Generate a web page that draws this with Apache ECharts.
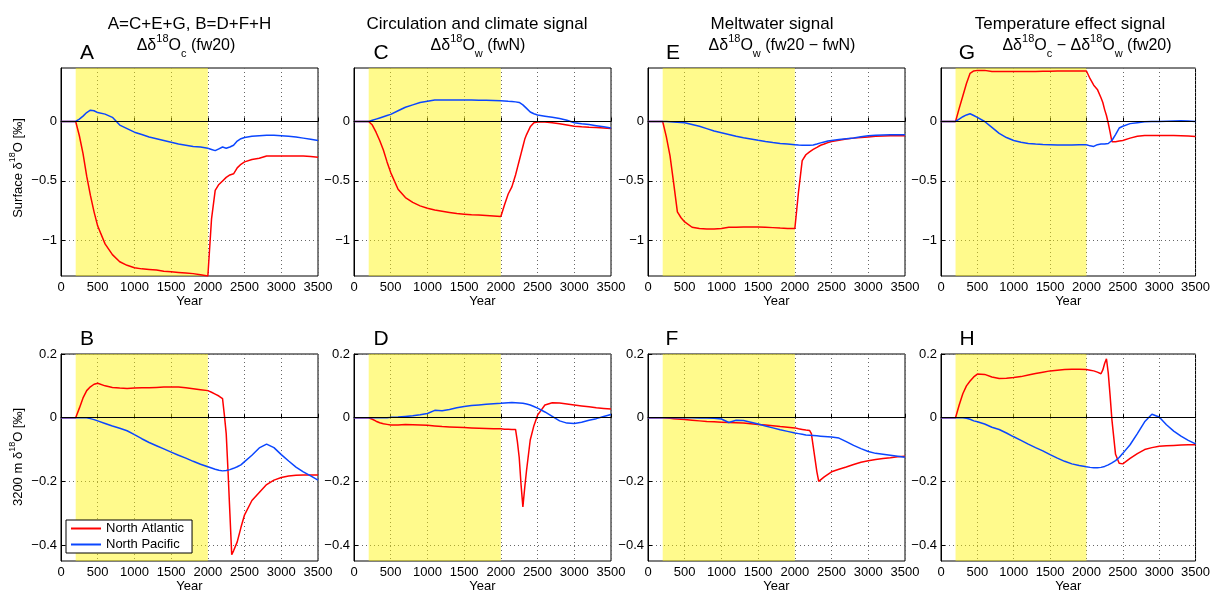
<!DOCTYPE html>
<html>
<head>
<meta charset="utf-8">
<script src="https://cdn.jsdelivr.net/npm/echarts@6/dist/echarts.min.js"></script>
<style>
html,body{margin:0;padding:0;background:#fff;}
#chart{width:1213px;height:594px;}
</style>
</head>
<body>
<div id="chart"></div>
<script>
const years = [0,200,250,300,350,400,450,500,
  600,700,800,900,1000,1100,1200,1300,1400,1500,1600,1700,1800,1900,
  2000,2050,2100,2150,2200,
  2225,2250,2275,2300,2325,2350,
  2400,2450,2500,
  2600,2700,2800,2900,3000,3100,3200,3300,3400,3500];

const xTicks = [0,500,1000,1500,2000,2500,3000,3500];
const surfTicks = [-1,-0.5,0];
const deepTicks = [-0.4,-0.2,0,0.2];
const seriesNames = ['North Atlantic','North Pacific'];

// Surface panels (top row)
const A_na = [0,0,-0.12,-0.27,-0.46,-0.62,-0.76,-0.88,
  -1.03,-1.12,-1.18,-1.21,-1.23,-1.24,-1.245,-1.25,-1.26,-1.265,-1.27,-1.275,-1.28,-1.29,
  -1.30,-0.82,-0.58,-0.53,-0.5,
  -0.49,-0.47,-0.46,-0.45,-0.45,-0.44,
  -0.39,-0.36,-0.34,
  -0.32,-0.31,-0.29,-0.29,-0.29,-0.29,-0.29,-0.29,-0.295,-0.30];
const A_np = [0,0,0.02,0.045,0.075,0.095,0.09,0.075,
  0.062,0.035,-0.03,-0.06,-0.09,-0.11,-0.13,-0.145,-0.16,-0.175,-0.19,-0.2,-0.21,-0.215,
  -0.225,-0.235,-0.245,-0.23,-0.215,
  -0.22,-0.225,-0.22,-0.215,-0.21,-0.2,
  -0.165,-0.145,-0.135,
  -0.125,-0.12,-0.115,-0.115,-0.12,-0.125,-0.13,-0.14,-0.15,-0.16];
const C_na = [0,0,-0.03,-0.09,-0.16,-0.24,-0.34,-0.43,
  -0.57,-0.64,-0.68,-0.71,-0.73,-0.745,-0.755,-0.765,-0.775,-0.78,-0.785,-0.787,-0.79,-0.795,
  -0.80,-0.70,-0.61,-0.55,-0.45,
  -0.39,-0.33,-0.27,-0.21,-0.15,-0.11,
  -0.045,-0.01,-0.005,
  -0.005,-0.01,-0.02,-0.03,-0.04,-0.045,-0.048,-0.05,-0.055,-0.06];
const C_np = [0,0,0.01,0.02,0.03,0.04,0.05,0.06,
  0.09,0.12,0.14,0.16,0.17,0.18,0.18,0.18,0.18,0.18,0.18,0.179,0.178,0.177,
  0.175,0.173,0.17,0.168,0.165,
  0.163,0.16,0.15,0.14,0.125,0.11,
  0.08,0.065,0.055,
  0.045,0.035,0.025,0.01,-0.01,-0.02,-0.025,-0.035,-0.045,-0.055];
const E_na = [0,0,-0.13,-0.29,-0.52,-0.76,-0.81,-0.845,
  -0.89,-0.90,-0.905,-0.905,-0.9,-0.89,-0.89,-0.888,-0.887,-0.887,-0.89,-0.893,-0.897,-0.9,
  -0.9,-0.59,-0.33,-0.28,-0.255,
  -0.245,-0.235,-0.225,-0.218,-0.21,-0.2,
  -0.19,-0.178,-0.168,
  -0.157,-0.148,-0.14,-0.135,-0.13,-0.125,-0.122,-0.12,-0.12,-0.12];
const E_np = [0,0,0,-0.002,-0.004,-0.006,-0.008,-0.01,
  -0.025,-0.04,-0.06,-0.08,-0.095,-0.11,-0.125,-0.137,-0.147,-0.158,-0.168,-0.177,-0.185,-0.19,
  -0.195,-0.198,-0.2,-0.2,-0.2,
  -0.2,-0.197,-0.195,-0.19,-0.185,-0.18,
  -0.172,-0.165,-0.16,
  -0.152,-0.145,-0.138,-0.128,-0.12,-0.115,-0.113,-0.112,-0.112,-0.112];
const G_na = [0,0,0.11,0.215,0.32,0.405,0.425,0.43,
  0.43,0.42,0.42,0.42,0.42,0.42,0.42,0.42,0.422,0.423,0.425,0.425,0.425,0.425,
  0.425,0.36,0.305,0.27,0.2,
  0.16,0.1,0.05,-0.015,-0.09,-0.17,
  -0.17,-0.165,-0.16,
  -0.14,-0.125,-0.118,-0.117,-0.117,-0.117,-0.118,-0.12,-0.123,-0.127];
const G_np = [0,0,0.02,0.04,0.055,0.065,0.05,0.035,
  0,-0.05,-0.1,-0.135,-0.16,-0.175,-0.185,-0.19,-0.193,-0.195,-0.197,-0.198,-0.197,-0.196,
  -0.195,-0.205,-0.21,-0.195,-0.19,
  -0.185,-0.19,-0.19,-0.185,-0.175,-0.16,
  -0.11,-0.055,-0.04,
  -0.018,-0.01,-0.003,0,0,0.003,0.005,0.007,0.005,0];

// 3200 m panels (bottom row)
const B_na = [0,0,0.03,0.062,0.085,0.097,0.105,0.108,
  0.1,0.095,0.093,0.092,0.093,0.094,0.094,0.095,0.096,0.096,0.096,0.094,0.091,0.088,
  0.085,0.08,0.074,0.068,0.06,
  0.008,-0.05,-0.17,-0.3,-0.43,-0.418,
  -0.39,-0.345,-0.305,
  -0.26,-0.235,-0.21,-0.196,-0.188,-0.183,-0.181,-0.18,-0.18,-0.18];
const B_np = [0,0,0,0,0,-0.003,-0.006,-0.01,
  -0.018,-0.026,-0.033,-0.041,-0.053,-0.066,-0.078,-0.088,-0.098,-0.108,-0.118,-0.127,-0.137,-0.146,
  -0.154,-0.158,-0.162,-0.165,-0.167,
  -0.167,-0.166,-0.165,-0.163,-0.161,-0.159,
  -0.154,-0.148,-0.138,
  -0.118,-0.095,-0.083,-0.094,-0.116,-0.136,-0.155,-0.17,-0.183,-0.196];
const D_na = [0,0,-0.005,-0.011,-0.016,-0.019,-0.021,-0.023,
  -0.023,-0.021,-0.022,-0.023,-0.024,-0.026,-0.028,-0.029,-0.03,-0.031,-0.032,-0.033,-0.034,-0.035,
  -0.035,-0.036,-0.036,-0.037,-0.037,
  -0.075,-0.125,-0.21,-0.28,-0.22,-0.165,
  -0.07,-0.025,0.008,
  0.04,0.047,0.046,0.043,0.04,0.037,0.034,0.031,0.029,0.027];
const D_np = [0,0,0,0,0,0,0,0.001,
  0.002,0.004,0.006,0.009,0.013,0.023,0.022,0.026,0.031,0.035,0.038,0.04,0.042,0.044,
  0.045,0.046,0.047,0.048,0.047,
  0.047,0.046,0.046,0.045,0.044,0.043,
  0.04,0.035,0.03,
  0.018,0.004,-0.01,-0.017,-0.018,-0.014,-0.008,-0.003,0.004,0.01];
const F_na = [0,0,-0.001,-0.002,-0.003,-0.004,-0.005,-0.006,
  -0.008,-0.01,-0.012,-0.013,-0.014,-0.015,-0.016,-0.017,-0.019,-0.021,-0.023,-0.025,-0.028,-0.03,
  -0.032,-0.035,-0.037,-0.039,-0.04,
  -0.05,-0.09,-0.13,-0.17,-0.2,-0.195,
  -0.186,-0.178,-0.17,
  -0.162,-0.155,-0.147,-0.14,-0.135,-0.131,-0.128,-0.126,-0.123,-0.121];
const F_np = [0,0,0,0,0,0,0,0,
  0,-0.001,-0.001,-0.002,-0.004,-0.015,-0.008,-0.009,-0.014,-0.02,-0.026,-0.032,-0.038,-0.043,
  -0.048,-0.05,-0.052,-0.054,-0.055,
  -0.0555,-0.056,-0.0565,-0.057,-0.0575,-0.058,
  -0.059,-0.06,-0.061,
  -0.064,-0.075,-0.087,-0.097,-0.106,-0.112,-0.115,-0.118,-0.121,-0.124];
const H_na = [0,0,0.04,0.075,0.1,0.115,0.128,0.137,
  0.136,0.128,0.123,0.124,0.126,0.129,0.134,0.139,0.143,0.147,0.149,0.151,0.152,0.152,
  0.151,0.149,0.147,0.143,0.138,
  0.15,0.17,0.185,0.14,0.07,-0.006,
  -0.115,-0.143,-0.145,
  -0.128,-0.113,-0.1,-0.094,-0.09,-0.088,-0.087,-0.086,-0.085,-0.085];
const H_np = [0,0,0,0,-0.002,-0.005,-0.01,-0.013,
  -0.02,-0.03,-0.037,-0.048,-0.06,-0.071,-0.083,-0.094,-0.104,-0.116,-0.127,-0.137,-0.145,-0.15,
  -0.154,-0.156,-0.157,-0.157,-0.156,
  -0.155,-0.153,-0.151,-0.148,-0.145,-0.142,
  -0.135,-0.125,-0.112,
  -0.085,-0.05,-0.013,0.011,0.002,-0.022,-0.042,-0.058,-0.071,-0.082];

const panels = [
  {na:A_na, np:A_np, row:0, col:0},
  {na:C_na, np:C_np, row:0, col:1},
  {na:E_na, np:E_np, row:0, col:2},
  {na:G_na, np:G_np, row:0, col:3},
  {na:B_na, np:B_np, row:1, col:0},
  {na:D_na, np:D_np, row:1, col:1},
  {na:F_na, np:F_np, row:1, col:2},
  {na:H_na, np:H_np, row:1, col:3}
];

const FONT = '"Liberation Sans", Arial, Helvetica, sans-serif';
const lefts = [61, 354, 648, 941];
const tops = [68, 354];
const W = 257, Hh = 208;
const RED = '#ff0000', BLUE = '#0a46ff';

function fmt(v){
  const r = Math.round(v*100)/100;
  if (r === 0) return '0';
  return (r < 0 ? '\u2212' : '') + String(Math.abs(r));
}

const grids = [], xAxes = [], yAxes = [], series = [];
panels.forEach((p, i) => {
  grids.push({left: lefts[p.col], top: tops[p.row], width: W, height: Hh,
    show: true, borderColor: '#000', borderWidth: 1, backgroundColor: 'transparent'});
  xAxes.push({type: 'value', gridIndex: i, min: 0, max: 3500, interval: 500,
    name: 'Year', nameLocation: 'middle', nameGap: 19,
    nameTextStyle: {fontFamily: FONT, fontSize: 13, color: '#000'},
    axisLine: {show: true, lineStyle: {color: '#000', width: 1}},
    axisTick: {show: true, inside: true, length: 4, lineStyle: {color: '#000'}},
    axisLabel: {fontFamily: FONT, fontSize: 13, color: '#000', margin: 5, formatter: fmt},
    splitLine: {show: true, lineStyle: {color: '#666', type: [1, 3], width: 1}}
  });
  const top = p.row === 0;
  const ticks = top ? surfTicks : deepTicks;
  yAxes.push({type: 'value', gridIndex: i,
    min: top ? -1.3 : -0.45, max: top ? 0.45 : 0.2,
    splitNumber: top ? 4 : 3,
    axisLine: {show: true, lineStyle: {color: '#000', width: 1}},
    axisTick: {show: true, inside: true, length: 4, lineStyle: {color: '#000'}, customValues: ticks},
    axisLabel: {fontFamily: FONT, fontSize: 13, color: '#000', margin: 4, formatter: fmt, customValues: ticks},
    splitLine: {show: true, lineStyle: {color: '#666', type: [1, 3], width: 1}}
  });
  series.push({type: 'line', xAxisIndex: i, yAxisIndex: i, data: [], z: 1, silent: true,
    markArea: {silent: true, itemStyle: {color: 'rgba(255,245,0,0.45)'},
      data: [[{xAxis: 200}, {xAxis: 2000}]]},
    markLine: {silent: true, symbol: ['none', 'none'], label: {show: false},
      lineStyle: {color: '#000', type: 'solid', width: 1}, animation: false,
      data: [{yAxis: 0}]}
  });
  series.push({name: seriesNames[0], type: 'line', xAxisIndex: i, yAxisIndex: i, z: 3,
    showSymbol: false, symbol: 'none', lineStyle: {color: RED, width: 1.5}, itemStyle: {color: RED},
    data: years.map((y, k) => [y, p.na[k]])});
  series.push({name: seriesNames[1], type: 'line', xAxisIndex: i, yAxisIndex: i, z: 4,
    showSymbol: false, symbol: 'none', lineStyle: {color: BLUE, width: 1.5}, itemStyle: {color: BLUE},
    data: years.map((y, k) => [y, p.np[k]])});
});

const richBase = {
  n: {fontFamily: FONT, fontSize: 16, lineHeight: 26, fill: '#000'},
  sup: {fontFamily: FONT, fontSize: 11, verticalAlign: 'top', fill: '#000'},
  sub: {fontFamily: FONT, fontSize: 11, verticalAlign: 'bottom', fill: '#000'}
};
const richSmall = {
  n: {fontFamily: FONT, fontSize: 13, lineHeight: 20, fill: '#000'},
  sup: {fontFamily: FONT, fontSize: 9, verticalAlign: 'top', fill: '#000'}
};
function txt(x, y, text, size, extra){
  return Object.assign({type: 'text', x: x, y: y, silent: true,
    style: {text: text, fontFamily: FONT, fontSize: size, fill: '#000', align: 'center', verticalAlign: 'middle'}}, extra || {});
}
function rtxt(x, y, text, rich, rot){
  return {type: 'text', x: x, y: y, rotation: rot || 0, silent: true,
    style: {text: text, rich: rich, align: 'center', verticalAlign: 'middle'}};
}
const graphics = [
  txt(189.5, 24, 'A=C+E+G, B=D+F+H', 17),
  rtxt(186, 46, '{n|\u0394\u03B4}{sup|18}{n|O}{sub|c}{n| (fw20)}', richBase),
  txt(477, 24, 'Circulation and climate signal', 17),
  rtxt(478, 46, '{n|\u0394\u03B4}{sup|18}{n|O}{sub|w}{n| (fwN)}', richBase),
  txt(772, 24, 'Meltwater signal', 17),
  rtxt(782, 46, '{n|\u0394\u03B4}{sup|18}{n|O}{sub|w}{n| (fw20 \u2212 fwN)}', richBase),
  txt(1070, 24, 'Temperature effect signal', 17),
  rtxt(1087, 46, '{n|\u0394\u03B4}{sup|18}{n|O}{sub|c}{n| \u2212 \u0394\u03B4}{sup|18}{n|O}{sub|w}{n| (fw20)}', richBase),
  txt(87, 53, 'A', 21), txt(381, 53, 'C', 21), txt(673, 53, 'E', 21), txt(967, 53, 'G', 21),
  txt(87, 339, 'B', 21), txt(381, 339, 'D', 21), txt(672, 339, 'F', 21), txt(967, 339, 'H', 21),
  rtxt(18, 168, '{n|Surface \u03B4}{sup|18}{n|O [\u2030]}', richSmall, Math.PI / 2),
  rtxt(18, 457, '{n|3200 m \u03B4}{sup|18}{n|O [\u2030]}', richSmall, Math.PI / 2)
];

const chart = echarts.init(document.getElementById('chart'), null, {renderer: 'canvas'});
chart.setOption({
  animation: false,
  backgroundColor: '#fff',
  grid: grids, xAxis: xAxes, yAxis: yAxes, series: series,
  graphic: graphics,
  legend: {data: seriesNames, left: 66, top: 520, orient: 'vertical', selectedMode: false,
    icon: 'rect', itemWidth: 30, itemHeight: 2, itemGap: 3,
    padding: [2, 8, 2, 5], borderColor: '#000', borderWidth: 1, backgroundColor: '#fff',
    textStyle: {fontFamily: FONT, fontSize: 13, color: '#000'}, z: 10}
});
</script>
</body>
</html>
